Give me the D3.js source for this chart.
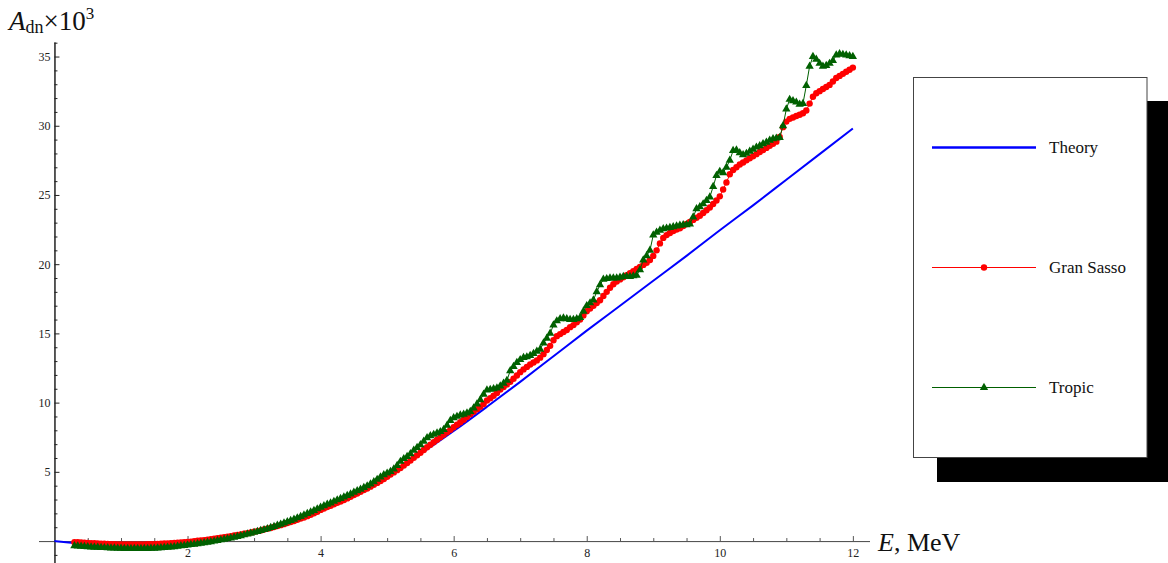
<!DOCTYPE html>
<html>
<head>
<meta charset="utf-8">
<script src="https://cdn.jsdelivr.net/npm/d3@7"></script>
<style>
  body { margin: 0; background: #fff; }
  svg { display: block; font-family: "Liberation Serif", "DejaVu Serif", serif; }
</style>
</head>
<body>
<div id="chart"></div>
<script>
// energy grid of the two measured series (MeV)
const energyStart = 0.3
const energyStep = 0.05

// Gran Sasso, A_dn x 10^3, one value per grid point
const granSasso = [
  -0.08, -0.09, -0.11, -0.12, -0.14, -0.15, -0.16, -0.18, -0.19, -0.20, -0.21, -0.22, -0.23, -0.24, -0.24, -0.25, -0.25, -0.25, -0.25, -0.25, -0.25, -0.24, -0.23, -0.22, -0.22, -0.21, -0.19, -0.18, -0.17, -0.16, -0.14, -0.12, -0.10, -0.09, -0.07,
  -0.04, -0.01, 0.02, 0.04, 0.07, 0.10, 0.13, 0.17, 0.20, 0.24, 0.27, 0.31, 0.35, 0.40, 0.44, 0.48, 0.53, 0.57, 0.62, 0.67,
  0.72, 0.77, 0.83, 0.89, 0.95, 1.01, 1.08, 1.15, 1.22, 1.30, 1.38, 1.45, 1.53, 1.62, 1.70, 1.80, 1.90, 2.00, 2.12, 2.25,
  2.35, 2.45, 2.55, 2.65, 2.76, 2.86, 2.97, 3.08, 3.20, 3.32, 3.44, 3.56, 3.68, 3.80, 3.93, 4.07, 4.20, 4.34, 4.48, 4.64,
  4.80, 4.96, 5.12, 5.28, 5.45, 5.63, 5.82, 6.02, 6.20, 6.38, 6.58, 6.78, 6.96, 7.14, 7.32, 7.50, 7.68, 7.86, 8.04, 8.22,
  8.40, 8.58, 8.76, 8.96, 9.16, 9.34, 9.52, 9.70, 9.90, 10.15, 10.32, 10.50, 10.70, 10.95, 11.12, 11.30, 11.50, 11.72, 11.96, 12.20,
  12.40, 12.58, 12.75, 12.90, 13.05, 13.25, 13.50, 13.80, 14.10, 14.50, 14.80, 14.95, 15.10, 15.25, 15.45, 15.60, 15.80, 16.00, 16.30, 16.60,
  16.80, 17.00, 17.20, 17.40, 17.70, 18.00, 18.30, 18.55, 18.75, 18.90, 19.05, 19.20, 19.35, 19.50, 19.65, 19.80, 19.95, 20.10, 20.30, 20.60,
  21.00, 21.50, 21.90, 22.10, 22.25, 22.40, 22.50, 22.60, 22.75, 22.90, 23.05, 23.20, 23.35, 23.50, 23.70, 23.90, 24.10, 24.35, 24.60, 24.90,
  25.40, 25.90, 26.50, 26.80, 27.00, 27.20, 27.35, 27.50, 27.65, 27.80, 27.95, 28.10, 28.25, 28.40, 28.55, 28.70, 28.85, 29.20, 29.90, 30.30,
  30.50, 30.60, 30.70, 30.80, 30.90, 31.10, 31.60, 32.10, 32.35, 32.50, 32.65, 32.80, 32.95, 33.20, 33.45, 33.60, 33.75, 33.90, 34.05, 34.20
]

// Tropic, A_dn x 10^3, same grid
const tropic = [
  -0.34, -0.36, -0.38, -0.40, -0.42, -0.44, -0.45, -0.46, -0.47, -0.48, -0.49, -0.50, -0.51, -0.52, -0.53, -0.54, -0.54, -0.55, -0.55, -0.55, -0.55, -0.54, -0.54, -0.53, -0.52, -0.51, -0.49, -0.47, -0.45, -0.43, -0.41, -0.38, -0.35, -0.32, -0.29,
  -0.26, -0.23, -0.20, -0.16, -0.13, -0.09, -0.05, -0.01, 0.03, 0.08, 0.12, 0.17, 0.22, 0.27, 0.32, 0.38, 0.44, 0.50, 0.56, 0.62,
  0.68, 0.75, 0.82, 0.89, 0.97, 1.05, 1.13, 1.21, 1.30, 1.39, 1.48, 1.57, 1.67, 1.77, 1.87, 1.98, 2.09, 2.20, 2.32, 2.44,
  2.55, 2.65, 2.75, 2.86, 2.97, 3.07, 3.17, 3.28, 3.40, 3.52, 3.63, 3.74, 3.86, 3.98, 4.12, 4.28, 4.45, 4.62, 4.78, 4.90,
  5.02, 5.20, 5.45, 5.75, 5.95, 6.10, 6.30, 6.55, 6.75, 6.95, 7.20, 7.45, 7.60, 7.70, 7.80, 7.90, 8.05, 8.35, 8.70, 8.90,
  9.00, 9.10, 9.15, 9.25, 9.35, 9.60, 9.90, 10.20, 10.60, 10.90, 10.95, 11.00, 11.05, 11.20, 11.40, 11.60, 12.30, 12.60, 12.90, 13.10,
  13.25, 13.30, 13.40, 13.55, 13.70, 13.85, 14.30, 14.65, 15.00, 15.60, 15.90, 16.05, 16.10, 16.05, 16.00, 16.00, 16.05, 16.15, 16.60, 17.00,
  17.20, 17.40, 18.00, 18.50, 18.90, 18.95, 19.00, 19.00, 19.00, 19.05, 19.10, 19.10, 19.10, 19.15, 19.20, 19.60, 20.30, 20.60, 21.00, 22.10,
  22.30, 22.45, 22.55, 22.60, 22.65, 22.70, 22.75, 22.80, 22.85, 22.85, 22.90, 23.40, 24.00, 24.15, 24.35, 24.60, 24.85, 25.60, 26.40, 26.70,
  26.60, 27.00, 27.50, 28.20, 28.25, 28.05, 27.90, 28.00, 28.15, 28.30, 28.45, 28.55, 28.70, 28.80, 28.95, 29.05, 29.10, 29.15, 30.00, 31.20,
  31.90, 31.80, 31.70, 31.55, 31.60, 32.90, 34.30, 35.00, 34.80, 34.50, 34.30, 34.35, 34.50, 34.70, 35.10, 35.20, 35.15, 35.10, 35.05, 35.00
]

// theory curve
const theoryE = [0, 0.25, 0.5, 0.75, 1, 1.25, 1.5, 1.75, 2, 2.5, 3, 3.5, 4, 4.5, 5, 5.5, 6, 6.5, 7, 7.5, 8, 8.5, 9, 9.5, 10, 10.5, 11, 11.5, 12]
const theoryA = [0, -0.12, -0.22, -0.3, -0.34, -0.35, -0.32, -0.24, -0.12, 0.25, 0.72, 1.45, 2.45, 3.55, 4.8, 6.3, 7.95, 9.7, 11.5, 13.35, 15.2, 17.0, 18.8, 20.6, 22.45, 24.25, 26.1, 27.95, 29.8]

const xTicks = [2, 4, 6, 8, 10, 12]
const yTicks = [5, 10, 15, 20, 25, 30, 35]
const legendNames = ['Theory', 'Gran Sasso', 'Tropic']

const blue = '#0000ff', red = '#ff0000', green = '#006000'

const width = 1168, height = 563

const svg = d3.select('#chart').append('svg')
  .attr('width', width)
  .attr('height', height)

const x = d3.scaleLinear().domain([-0.24, 12.25]).range([38.5, 869.5])
const y = d3.scaleLinear().domain([-1.6, 36.05]).range([563.2, 42])

const gsData = granSasso.map((v, i) => ({ e: energyStart + i * energyStep, a: v }))
const trData = tropic.map((v, i) => ({ e: energyStart + i * energyStep, a: v }))
const thData = theoryE.map((e, i) => ({ e: e, a: theoryA[i] }))

// axes
const minorX = d3.range(1, 25).map(d => d / 2).filter(d => d % 2 !== 0)
const minorY = d3.range(-1, 37).filter(d => d % 5 !== 0)

const xAxisG = svg.append('g')
  .attr('transform', `translate(0,${y(0)})`)
xAxisG.call(d3.axisBottom(x).tickValues(minorX).tickSizeInner(-3).tickSizeOuter(0).tickFormat(''))
xAxisG.append('g')
  .call(d3.axisBottom(x).tickValues(xTicks).tickSizeInner(-5).tickSizeOuter(0).tickPadding(7))
xAxisG.selectAll('path, line').attr('stroke', '#555')
xAxisG.selectAll('text').attr('font-size', 12).attr('fill', '#222')
  .attr('font-family', '"Liberation Serif", serif')

const yAxisG = svg.append('g')
  .attr('transform', `translate(${x(0)},0)`)
yAxisG.call(d3.axisLeft(y).tickValues(minorY).tickSizeInner(-3).tickSizeOuter(0).tickFormat(''))
yAxisG.append('g')
  .call(d3.axisLeft(y).tickValues(yTicks).tickSizeInner(-5).tickSizeOuter(0).tickPadding(4))
yAxisG.selectAll('path, line').attr('stroke', '#222')
yAxisG.selectAll('text').attr('font-size', 12).attr('fill', '#222')
  .attr('font-family', '"Liberation Serif", serif')

// axis labels
const yLab = svg.append('text')
  .attr('x', 9).attr('y', 30)
  .attr('font-size', 27).attr('fill', '#111')
yLab.append('tspan').attr('font-style', 'italic').text('A')
yLab.append('tspan').attr('font-size', 18).attr('dy', 3).text('dn')
yLab.append('tspan').attr('dy', -3).text('×10')
yLab.append('tspan').attr('font-size', 17).attr('dy', -11).text('3')

const xLab = svg.append('text')
  .attr('x', 878).attr('y', 551)
  .attr('font-size', 26).attr('fill', '#111')
xLab.append('tspan').attr('font-style', 'italic').text('E')
xLab.append('tspan').text(', MeV')

// lines
const line = d3.line().x(d => x(d.e)).y(d => y(d.a))

svg.append('path')
  .datum(thData)
  .attr('fill', 'none')
  .attr('stroke', blue)
  .attr('stroke-width', 2)
  .attr('d', line.curve(d3.curveMonotoneX))

line.curve(d3.curveLinear)

svg.append('path')
  .datum(gsData)
  .attr('fill', 'none')
  .attr('stroke', red)
  .attr('stroke-width', 1)
  .attr('d', line)

svg.selectAll('circle.gs')
  .data(gsData)
  .enter().append('circle')
    .attr('class', 'gs')
    .attr('cx', d => x(d.e))
    .attr('cy', d => y(d.a))
    .attr('r', 3.2)
    .attr('fill', red)

svg.append('path')
  .datum(trData)
  .attr('fill', 'none')
  .attr('stroke', green)
  .attr('stroke-width', 1)
  .attr('d', line)

const tri = d3.symbol().type(d3.symbolTriangle).size(30)

svg.selectAll('path.tr')
  .data(trData)
  .enter().append('path')
    .attr('class', 'tr')
    .attr('d', tri)
    .attr('transform', d => `translate(${x(d.e)},${y(d.a)})`)
    .attr('fill', green)

// legend with drop shadow
const lg = svg.append('g')
lg.append('rect')
  .attr('x', 937).attr('y', 101)
  .attr('width', 240).attr('height', 381)
  .attr('fill', '#000')
lg.append('rect')
  .attr('x', 913.5).attr('y', 77.5)
  .attr('width', 233.5).attr('height', 380)
  .attr('fill', '#fff')
  .attr('stroke', '#444')
  .attr('stroke-width', 1)

const rowY = [147.5, 267.5, 387.5]
const colors = [blue, red, green]

legendNames.forEach((name, i) => {
  lg.append('line')
    .attr('x1', 932).attr('x2', 1036)
    .attr('y1', rowY[i]).attr('y2', rowY[i])
    .attr('stroke', colors[i])
    .attr('stroke-width', i === 0 ? 2.5 : 1)
  if (i === 1) {
    lg.append('circle').attr('cx', 984).attr('cy', rowY[i]).attr('r', 3.2).attr('fill', red)
  }
  if (i === 2) {
    lg.append('path').attr('d', tri).attr('transform', `translate(984,${rowY[i]})`).attr('fill', green)
  }
  lg.append('text')
    .attr('x', 1049).attr('y', rowY[i] + 5)
    .attr('font-size', 17).attr('fill', '#111')
    .text(name)
})
</script>
</body>
</html>
